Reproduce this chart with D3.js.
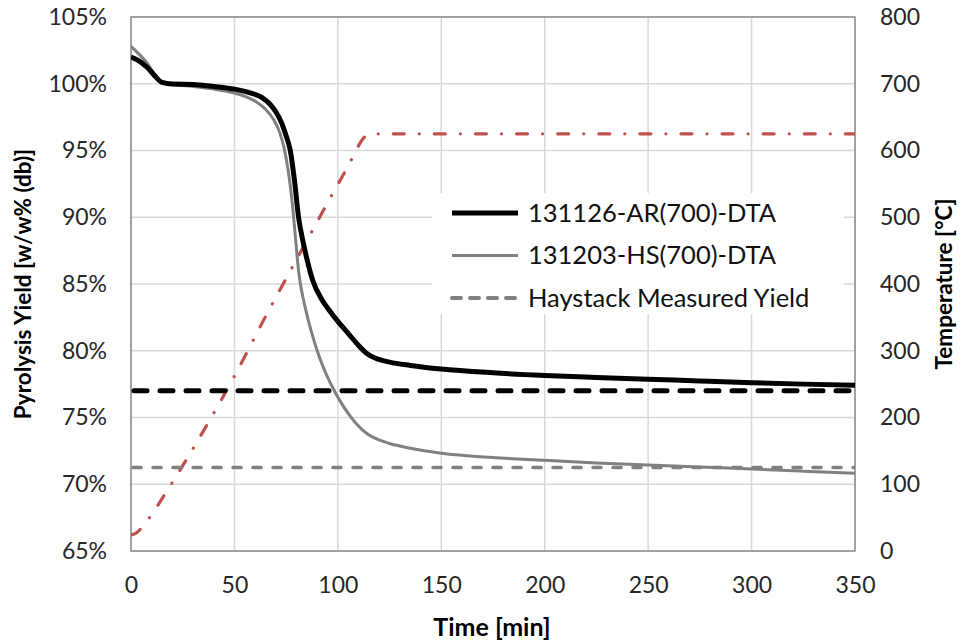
<!DOCTYPE html>
<html>
<head>
<meta charset="utf-8">
<script src="https://cdn.jsdelivr.net/npm/d3@7"></script>
<style>
  body { margin: 0; background: #fff; }
  svg { display: block; font-family: Lato, "Open Sans", sans-serif; }
</style>
</head>
<body>
<svg id="chart" width="960" height="640"></svg>
<script>
// Yield curves (time in min, yield in %)
const timeAR = [0, 4, 8, 12, 15, 20, 30, 40, 50, 58, 63, 67, 70, 73, 75, 77, 79, 81, 83, 85, 88, 92, 96, 100, 105, 110, 114, 118, 125, 135, 150, 175, 200, 225, 250, 275, 300, 325, 350];
const yieldAR = [102.0, 101.7, 101.2, 100.5, 100.1, 99.98, 99.95, 99.8, 99.6, 99.3, 99.0, 98.5, 97.9, 97.0, 96.1, 95.0, 92.8, 90.0, 88.3, 86.9, 85.2, 83.9, 83.0, 82.2, 81.3, 80.4, 79.8, 79.45, 79.15, 78.9, 78.63, 78.35, 78.15, 78.0, 77.87, 77.73, 77.6, 77.5, 77.42];

const timeHS = [0, 4, 8, 12, 15, 20, 30, 40, 50, 56, 61, 65, 69, 72, 74, 76, 78, 79.5, 81, 82, 84, 86, 88, 90, 93, 96, 99, 102, 105, 108, 111, 114, 118, 125, 135, 150, 175, 200, 225, 250, 275, 300, 325, 350];
const yieldHS = [102.8, 102.2, 101.5, 100.6, 100.15, 99.95, 99.8, 99.6, 99.3, 99.0, 98.6, 98.1, 97.3, 96.3, 95.2, 93.5, 91.0, 88.5, 86.0, 84.9, 83.4, 82.1, 81.0, 80.0, 78.75, 77.7, 76.8, 76.0, 75.3, 74.7, 74.2, 73.8, 73.45, 73.05, 72.7, 72.32, 72.0, 71.8, 71.6, 71.44, 71.3, 71.14, 70.98, 70.82];

// Haystack measured yields (horizontal reference lines)
const haystackAR = 77.0;
const haystackHS = 71.25;

// Furnace temperature (°C)
const timeTemp = [0, 2, 4, 7.7, 17.4, 26.6, 35.8, 50, 64.8, 78.3, 87.3, 95.8, 104.5, 113.5, 115, 350];
const tempValues = [24, 26, 31, 45, 90, 136, 184, 262, 350, 427, 478, 526, 574, 622, 625, 625];

const xTicks = [0, 50, 100, 150, 200, 250, 300, 350];
const yTicks = [65, 70, 75, 80, 85, 90, 95, 100, 105];
const tTicks = [0, 100, 200, 300, 400, 500, 600, 700, 800];

const legendLabels = ['131126-AR(700)-DTA', '131203-HS(700)-DTA', 'Haystack Measured Yield'];

const margin = { top: 17, right: 105, bottom: 89, left: 131 };
const W = 960, H = 640;
const width = W - margin.left - margin.right;
const height = H - margin.top - margin.bottom;

const svg = d3.select('#chart');
const g = svg.append('g').attr('transform', `translate(${margin.left},${margin.top})`);

const x = d3.scaleLinear().domain([0, 350]).range([0, width]);
const y = d3.scaleLinear().domain([65, 105]).range([height, 0]);
const yT = d3.scaleLinear().domain([0, 800]).range([height, 0]);

svg.append('defs').append('clipPath').attr('id', 'plot-clip')
  .append('rect').attr('width', width).attr('height', height);

// grid
g.append('g').selectAll('line.h').data(yTicks).enter().append('line')
  .attr('x1', 0).attr('x2', width)
  .attr('y1', d => y(d)).attr('y2', d => y(d))
  .attr('stroke', '#d9d9d9').attr('stroke-width', 1.5);
g.append('g').selectAll('line.v').data(xTicks).enter().append('line')
  .attr('y1', 0).attr('y2', height)
  .attr('x1', d => x(d)).attr('x2', d => x(d))
  .attr('stroke', '#d9d9d9').attr('stroke-width', 1.5);

// plot border
g.append('rect').attr('width', width).attr('height', height)
  .attr('fill', 'none').attr('stroke', '#8c8c8c').attr('stroke-width', 1.5);

// axes
const axisLeft = g.append('g').call(d3.axisLeft(y).tickValues(yTicks).tickSize(0).tickPadding(24).tickFormat(d => d + '%'));
const axisRight = g.append('g').attr('transform', `translate(${width},0)`)
  .call(d3.axisRight(yT).tickValues(tTicks).tickSize(0).tickPadding(25));
const axisBottom = g.append('g').attr('transform', `translate(0,${height})`)
  .call(d3.axisBottom(x).tickValues(xTicks).tickSize(0).tickPadding(26));
[axisLeft, axisRight, axisBottom].forEach(a => {
  a.select('.domain').remove();
  a.selectAll('text').attr('font-size', 23).attr('fill', '#262626').attr('font-family', 'Lato, sans-serif');
});

const plot = g.append('g').attr('clip-path', 'url(#plot-clip)');

const lineY = d3.line().x(d => x(d[0])).y(d => y(d[1])).curve(d3.curveMonotoneX);
const lineT = d3.line().x(d => x(d[0])).y(d => yT(d[1])).curve(d3.curveMonotoneX);

// temperature
plot.append('path')
  .datum(d3.zip(timeTemp, tempValues))
  .attr('d', lineT)
  .attr('fill', 'none').attr('stroke', '#c0504d').attr('stroke-width', 3.2)
  .attr('stroke-linecap', 'round').attr('stroke-dasharray', '11,15,0.1,15');

// haystack reference lines
plot.append('line')
  .attr('x1', x(0)).attr('x2', x(350)).attr('y1', y(haystackAR)).attr('y2', y(haystackAR))
  .attr('stroke', '#000').attr('stroke-width', 5).attr('stroke-linecap', 'round')
  .attr('stroke-dasharray', '13,13').attr('stroke-dashoffset', -3);
plot.append('line')
  .attr('x1', x(0)).attr('x2', x(350)).attr('y1', y(haystackHS)).attr('y2', y(haystackHS))
  .attr('stroke', '#808080').attr('stroke-width', 3.5).attr('stroke-linecap', 'round')
  .attr('stroke-dasharray', '8,12').attr('stroke-dashoffset', -2);

// yield curves
plot.append('path')
  .datum(d3.zip(timeHS, yieldHS))
  .attr('d', lineY)
  .attr('fill', 'none').attr('stroke', '#808080').attr('stroke-width', 3);
plot.append('path')
  .datum(d3.zip(timeAR, yieldAR))
  .attr('d', lineY)
  .attr('fill', 'none').attr('stroke', '#000').attr('stroke-width', 5);

// legend
const lg = svg.append('g').attr('transform', 'translate(432,193)');
lg.append('rect').attr('width', 412).attr('height', 121).attr('fill', '#fff');
const legendStyles = [
  { stroke: '#000', width: 5, dash: null },
  { stroke: '#808080', width: 3, dash: null },
  { stroke: '#808080', width: 4, dash: '9,9' }
];
legendLabels.forEach((label, i) => {
  const ly = 20 + i * 42.5;
  lg.append('line')
    .attr('x1', 20).attr('x2', 86).attr('y1', ly).attr('y2', ly)
    .attr('stroke', legendStyles[i].stroke).attr('stroke-width', legendStyles[i].width)
    .attr('stroke-dasharray', legendStyles[i].dash)
    .attr('stroke-linecap', legendStyles[i].dash ? 'round' : 'butt');
  lg.append('text')
    .attr('x', 96).attr('y', ly).attr('dy', '0.35em')
    .attr('font-size', 25.5).attr('fill', '#111')
    .text(label);
});

// axis titles
svg.append('text')
  .attr('x', margin.left + width / 2 - 1).attr('y', 627).attr('dy', '0.35em')
  .attr('text-anchor', 'middle').attr('font-weight', 'bold').attr('font-size', 25)
  .text('Time [min]');
svg.append('text')
  .attr('transform', `translate(23,${margin.top + height / 2}) rotate(-90)`)
  .attr('dy', '0.35em')
  .attr('text-anchor', 'middle').attr('font-weight', 'bold').attr('font-size', 22.5)
  .text('Pyrolysis Yield [w/w% (db)]');
svg.append('text')
  .attr('transform', `translate(944,${margin.top + height / 2}) rotate(-90)`)
  .attr('dy', '0.35em')
  .attr('text-anchor', 'middle').attr('font-weight', 'bold').attr('font-size', 22.5)
  .text('Temperature [°C]');
</script>
</body>
</html>
